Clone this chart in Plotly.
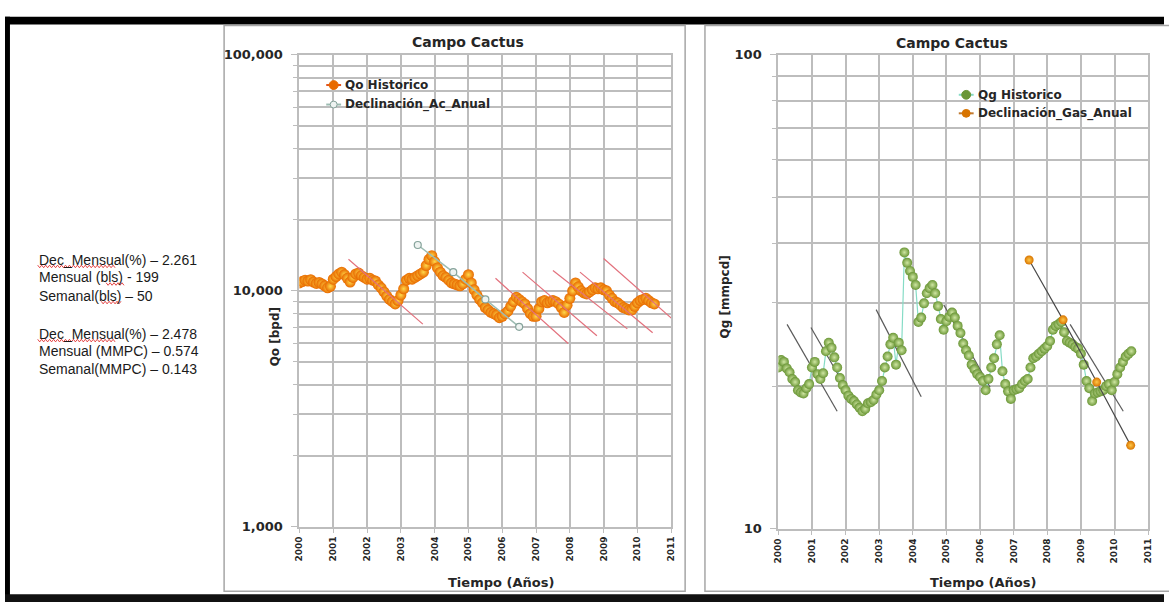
import plotly.graph_objects as go

W, H = 1169, 610

# ---------------- data ----------------
years = list(range(2000, 2012))
start_year = 2000

# Qo historico, monthly from Jan-2000 (bpd)
qo_hist = [
    10800, 10950, 11100, 11000, 11150, 10900, 10750, 10850, 10700, 10500, 10300, 10450,
    11200, 11500, 11800, 12000, 11700, 11300, 10900, 11400, 11800, 11900, 11600, 11400,
    11200, 11300, 11100, 11000, 10600, 10300, 9900, 9500, 9200, 9000, 8800, 9100,
    9600, 10200, 11100, 11300, 11200, 11400, 11600, 11800, 12000, 12800, 13600, 14100,
    13300, 12500, 12000, 11600, 11400, 11100, 10800, 10700, 10600, 10500, 10700, 11200,
    11700, 10800, 10100, 9600, 9200, 8900, 8500, 8300, 8100, 8000, 7900, 7700,
    7800, 8000, 8200, 8600, 9000, 9400, 9200, 9000, 8800, 8400, 8000, 7800,
    7800, 8400, 9000, 9100, 8900, 9000, 9100, 9000, 8800, 8500, 8100, 8700,
    9300, 10000, 10800, 10400, 10000, 9800, 9700, 9900, 10100, 10300, 10200, 10300,
    10100, 10000, 9600, 9300, 9000, 8900, 8700, 8500, 8400, 8300, 8300, 8600,
    8900, 9100, 9200, 9300, 9100, 8900, 8800,
]
ac_years = [2003.5, 2004.55, 2005.5, 2006.5]
ac_vals = [15640, 12000, 9200, 7040]
qo_dec_x0 = [2001.45, 2005.8, 2006.6, 2007.5, 2008.3, 2009.0]
qo_dec_y0 = [13600, 11300, 12000, 12200, 12000, 13700]
qo_dec_x1 = [2003.65, 2007.95, 2008.8, 2009.7, 2010.45, 2011.1]
qo_dec_y1 = [7230, 5980, 6450, 6900, 6650, 7450]

# Qg historico, monthly from Jan-2000 (mmpcd)
qg_hist = [
    21.9, 22.7, 22.5, 21.8, 21.4, 20.7, 20.4, 19.6, 19.4, 19.3, 19.8, 20.2,
    21.9, 22.5, 21.2, 20.7, 21.3, 23.7, 24.7, 24.1, 23.0, 21.9, 20.8, 20.1,
    19.6, 19.1, 18.8, 18.6, 18.3, 18.0, 17.7, 17.9, 18.4, 18.5, 18.7, 19.2,
    19.6, 20.5, 21.9, 23.1, 24.5, 25.3, 22.2, 24.7, 23.8, 38.3, 36.4, 35.0,
    34.0, 32.7, 27.3, 27.9, 29.9, 31.4, 32.2, 32.7, 31.4, 29.5, 27.7, 26.3,
    27.4, 28.0, 28.6, 27.9, 26.8, 25.9, 24.6, 23.8, 23.2, 22.2, 21.7, 21.2,
    20.9, 20.5, 19.6, 20.7, 21.9, 22.9, 24.5, 25.6, 21.5, 20.2, 19.5, 18.8,
    19.6, 19.7, 19.8, 20.2, 20.5, 20.7, 21.9, 22.9, 23.1, 23.4, 23.7, 24.0,
    24.3, 24.9, 26.3, 26.8, 27.0, 27.3, 26.0, 24.9, 24.7, 24.5, 24.2, 24.0,
    23.4, 22.2, 20.5, 19.8, 18.6, 19.3, 19.4, 19.5, 19.6, 20.0, 20.2, 19.6,
    20.4, 21.2, 21.9, 22.5, 23.1, 23.4, 23.7,
]
gas_years = [2007.46, 2008.47, 2009.47, 2010.48]
gas_vals = [36.9, 27.6, 20.4, 15.0]
qg_dec_x0 = [2000.26, 2000.97, 2002.91, 2004.92, 2008.68]
qg_dec_y0 = [27.0, 26.6, 29.0, 29.7, 27.0]
qg_dec_x1 = [2001.75, 2002.47, 2004.25, 2006.3, 2010.26]
qg_dec_y1 = [17.7, 17.4, 19.0, 19.9, 17.7]

side_text = [
    "Dec_Mensual(%) \u2013 2.261",
    "Mensual (bls) - 199",
    "Semanal(bls) \u2013 50",
    "Dec_Mensual(%) \u2013 2.478",
    "Mensual (MMPC) \u2013 0.574",
    "Semanal(MMPC) \u2013 0.143",
]
side_text_y = [259, 277, 296, 335, 353, 371]

BOLD = "DejaVu Sans"
GRID = "#bdbdbd"
TXT = "#262626"
QO_EDGE, QO_CORE, QO_LINE = "#e86a00", "#ffd84a", "#e2531c"
AC_FILL, AC_EDGE, AC_LINE = "#eef3f1", "#86a39b", "#9dbcb2"
QG_EDGE, QG_CORE, QG_LINE = "#6a9636", "#cfe6a2", "#86dcc6"
GAS_EDGE, GAS_CORE, GAS_LINE = "#d87400", "#ffc848", "#4a4a4a"


def px(x):
    return x / W


def py(y):
    return 1 - y / H


def squiggle(x0, x1, y, amp=1.3, step=2.0):
    pts = []
    x, up = x0, True
    while x <= x1:
        pts.append((px(x), py(y - amp if up else y + amp)))
        x += step
        up = not up
    return "M " + " L ".join(f"{a:.5f},{b:.5f}" for a, b in pts)


months_qo = [start_year + i / 12 for i in range(len(qo_hist))]
months_qg = [start_year + i / 12 for i in range(len(qg_hist))]

fig = go.Figure()

# ---- left chart: Qo ----
fig.add_trace(go.Scatter(
    x=months_qo, y=qo_hist, mode="lines+markers", name="Qo Historico",
    line=dict(color=QO_LINE, width=1.2),
    marker=dict(size=11, color=QO_EDGE, gradient=dict(type="radial", color=QO_CORE),
                line=dict(width=0)),
    xaxis="x", yaxis="y"))
fig.add_trace(go.Scatter(
    x=ac_years, y=ac_vals, mode="lines+markers", name="Declinaci\u00f3n_Ac_Anual",
    line=dict(color=AC_LINE, width=1.5),
    marker=dict(size=7, color=AC_FILL, line=dict(color=AC_EDGE, width=1.2)),
    xaxis="x", yaxis="y"))
for a, b, c, d in zip(qo_dec_x0, qo_dec_y0, qo_dec_x1, qo_dec_y1):
    fig.add_trace(go.Scatter(
        x=[a, c], y=[b, d], mode="lines", hoverinfo="skip",
        line=dict(color="#e2707c", width=1.2), xaxis="x", yaxis="y"))

# ---- right chart: Qg ----
for a, b, c, d in zip(qg_dec_x0, qg_dec_y0, qg_dec_x1, qg_dec_y1):
    fig.add_trace(go.Scatter(
        x=[a, c], y=[b, d], mode="lines", hoverinfo="skip",
        line=dict(color="#5a5a5a", width=1.2), xaxis="x2", yaxis="y2"))
fig.add_trace(go.Scatter(
    x=months_qg, y=qg_hist, mode="lines+markers", name="Qg Historico",
    line=dict(color=QG_LINE, width=1.2),
    marker=dict(size=10, color=QG_EDGE, gradient=dict(type="radial", color=QG_CORE),
                line=dict(width=0)),
    xaxis="x2", yaxis="y2"))
fig.add_trace(go.Scatter(
    x=gas_years, y=gas_vals, mode="lines+markers", name="Declinaci\u00f3n_Gas_Anual",
    line=dict(color=GAS_LINE, width=1.2),
    marker=dict(size=9, color=GAS_EDGE, gradient=dict(type="radial", color=GAS_CORE),
                line=dict(width=0)),
    xaxis="x2", yaxis="y2"))

xax = dict(range=[2000, 2011], tickvals=years, ticktext=[str(y) for y in years],
           tickangle=-90, tickfont=dict(family=BOLD, size=9, color=TXT, weight="bold"),
           showgrid=True, gridcolor=GRID, gridwidth=2, showline=True, linecolor=GRID,
           linewidth=2, mirror=True, ticks="outside", ticklen=4, tickcolor=GRID,
           zeroline=False)
yax = dict(type="log", tickfont=dict(family=BOLD, size=13, color=TXT, weight="bold"),
           showgrid=True, gridcolor=GRID, gridwidth=2, showline=True, linecolor=GRID,
           linewidth=2, mirror=True, ticks="outside", ticklen=6, tickcolor=GRID,
           ticklabelstandoff=6, zeroline=False)

fig.update_layout(
    width=W, height=H, margin=dict(l=0, r=0, t=0, b=0),
    paper_bgcolor="white", plot_bgcolor="white", showlegend=False,
    xaxis=dict(xax, domain=[px(297), px(672)], anchor="y"),
    yaxis=dict(yax, domain=[py(533), py(49)], anchor="x", range=[3, 5],
               tickvals=[1000, 10000, 100000], ticktext=["1,000", "10,000", "100,000"],
               minor=dict(tickvals=[k * 10 ** e for e in (3, 4) for k in range(2, 10)],
                          showgrid=True, gridcolor=GRID, gridwidth=2,
                          ticks="outside", ticklen=4, tickcolor=GRID)),
    xaxis2=dict(xax, domain=[px(780), px(1153)], anchor="y2"),
    yaxis2=dict(yax, domain=[py(535), py(49)], anchor="x2", range=[1, 2],
                tickvals=[10, 100], ticktext=["10", "100"],
                minor=dict(tickvals=[k * 10 for k in range(2, 10)],
                           showgrid=True, gridcolor=GRID, gridwidth=2,
                           ticks="outside", ticklen=4, tickcolor=GRID)),
)

shapes = [
    # black frame of the screenshot
    dict(type="rect", x0=0, x1=1, y0=py(18), y1=py(10), fillcolor="black", line_width=0),
    dict(type="rect", x0=0, x1=px(5), y0=0, y1=py(10), fillcolor="black", line_width=0),
    dict(type="rect", x0=0, x1=1, y0=0, y1=py(602), fillcolor="#111111", line_width=0),
    # chart panels
    dict(type="rect", x0=px(221), x1=px(686), y0=py(599), y1=py(19),
         line=dict(color="#a6a6a6", width=1.5)),
    dict(type="rect", x0=px(706), x1=px(1180), y0=py(599), y1=py(19),
         line=dict(color="#a6a6a6", width=1.5)),
]
for sq in [(33, 111, 266), (102, 120, 284), (97, 117, 303), (33, 111, 342)]:
    shapes.append(dict(type="path", path=squiggle(*sq),
                       line=dict(color="#e03030", width=0.9)))

# hand-drawn legends (line sample + marker), like the Excel ones
legend_items = [
    (324, 339, 80, QO_LINE, QO_EDGE, QO_EDGE, 4.5),
    (324, 339, 100, AC_LINE, AC_FILL, AC_EDGE, 3.5),
    (962, 977, 90, QG_LINE, QG_EDGE, QG_EDGE, 4.5),
    (962, 977, 109, "#c07a30", GAS_EDGE, GAS_EDGE, 4),
]
for x0, x1, y, lc, fc, ec, r in legend_items:
    xm = (x0 + x1) / 2
    shapes.append(dict(type="line", x0=px(x0), x1=px(x1), y0=py(y), y1=py(y),
                       line=dict(color=lc, width=2)))
    shapes.append(dict(type="circle", x0=px(xm - r), x1=px(xm + r),
                       y0=py(y + r), y1=py(y - r), fillcolor=fc,
                       line=dict(color=ec, width=1)))
for s in shapes:
    s.setdefault("xref", "paper")
    s.setdefault("yref", "paper")
fig.update_layout(shapes=shapes)

ann = []
for t, y in zip(side_text, side_text_y):
    ann.append(dict(text=t, x=px(32), y=py(y), xanchor="left", yanchor="middle",
                    font=dict(family="Liberation Sans", size=14, color="#1a1a1a")))
for t, x, y in [("Qo Historico", 341, 80), ("Declinaci\u00f3n_Ac_Anual", 341, 100),
                ("Qg Historico", 979, 90), ("Declinaci\u00f3n_Gas_Anual", 979, 109)]:
    ann.append(dict(text=t, x=px(x), y=py(y), xanchor="left", yanchor="middle",
                    font=dict(family=BOLD, size=12, color=TXT, weight="bold")))
for t, x, y, size, ang in [
    ("Campo Cactus", 467, 36, 14, 0),
    ("Campo Cactus", 955, 37, 14, 0),
    ("Tiempo (A\u00f1os)", 500, 590, 13, 0),
    ("Tiempo (A\u00f1os)", 986, 590, 13, 0),
    ("Qo [bpd]", 272, 338, 12, -90),
    ("Qg [mmpcd]", 726, 297, 12, -90),
]:
    ann.append(dict(text=t, x=px(x), y=py(y), xanchor="center", yanchor="middle",
                    textangle=ang,
                    font=dict(family=BOLD, size=size, color=TXT, weight="bold")))
for a in ann:
    a.update(xref="paper", yref="paper", showarrow=False)
fig.update_layout(annotations=ann)

# the page's default body margin would push the 1169x610 figure off the window
fig.write_html("out.html", config={"displayModeBar": False},
               post_script="document.body.style.margin='0';"
                           "document.body.style.overflow='hidden';")
